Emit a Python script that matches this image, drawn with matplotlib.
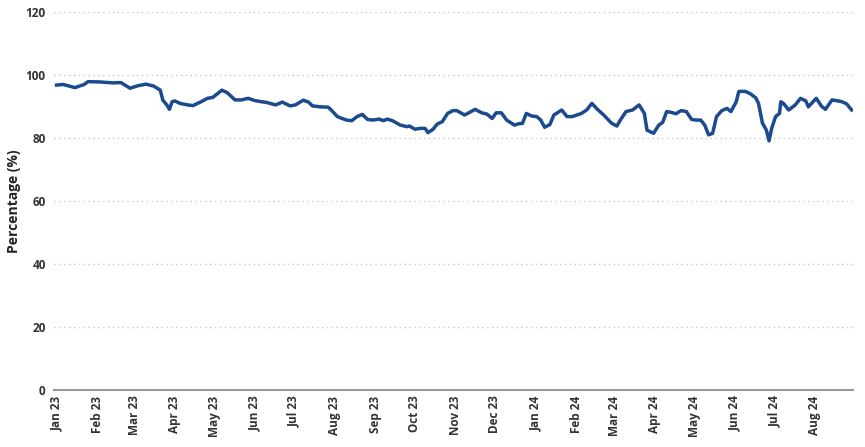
import matplotlib
matplotlib.use("Agg")
import matplotlib.pyplot as plt
import matplotlib.dates as mdates
import pandas as pd

start_date = "2023-01-01"
day_offsets = [0, 5, 14, 21, 24, 33, 43, 49, 56, 62, 68, 74, 79, 81, 84, 86, 88, 90, 94, 100,
               104, 110, 115, 119, 126, 130, 136, 141, 146, 151, 155, 160, 167, 172, 178, 182, 188, 192, 195, 201,
               207, 210, 214, 217, 221, 225, 229, 233, 237, 241, 246, 249, 252, 256, 262, 267, 269, 273, 278, 281,
               283, 287, 290, 294, 298, 302, 305, 311, 319, 324, 328, 332, 335, 339, 343, 349, 353, 355, 358, 362,
               366, 369, 372, 376, 379, 385, 389, 393, 400, 404, 408, 412, 417, 423, 427, 430, 434, 439, 444, 448,
               450, 454, 455, 459, 462, 465, 469, 472, 476, 480, 484, 487, 491, 494, 497, 500, 503, 507, 511, 514,
               518, 520, 525, 529, 533, 535, 538, 541, 543, 545, 548, 551, 552, 554, 558, 563, 567, 571, 573, 579,
               583, 586, 591, 598, 602, 606]
values = [96.8, 97.0, 96.0, 97.0, 97.9, 97.8, 97.5, 97.6, 95.8, 96.6, 97.1, 96.5, 95.2, 92.0, 90.5, 89.1, 91.5, 91.8, 91.0, 90.5,
          90.3, 91.5, 92.6, 92.9, 95.2, 94.4, 92.1, 92.1, 92.6, 91.9, 91.6, 91.3, 90.5, 91.4, 90.2, 90.5, 92.0, 91.4, 90.2, 89.9,
          89.8, 88.6, 86.8, 86.3, 85.7, 85.5, 86.8, 87.5, 85.9, 85.7, 86.0, 85.5, 86.0, 85.5, 84.1, 83.6, 83.8, 82.8, 83.1, 83.0,
          81.7, 82.8, 84.4, 85.2, 87.8, 88.7, 88.7, 87.3, 89.1, 88.0, 87.6, 86.2, 88.0, 88.0, 85.7, 84.1, 84.6, 84.6, 87.8, 87.0,
          86.8, 85.7, 83.4, 84.3, 87.3, 88.9, 86.8, 86.8, 87.8, 88.9, 91.0, 89.2, 87.3, 84.7, 83.8, 85.9, 88.4, 88.9, 90.5, 87.8,
          82.5, 81.7, 81.5, 84.1, 85.0, 88.4, 88.1, 87.7, 88.7, 88.4, 85.9, 85.7, 85.7, 84.1, 81.0, 81.5, 86.8, 88.7, 89.4, 88.4,
          91.5, 94.8, 94.8, 94.0, 92.7, 91.0, 84.7, 82.5, 79.1, 83.0, 86.8, 87.8, 91.5, 91.0, 88.9, 90.5, 92.6, 91.8, 89.9, 92.6,
          90.1, 89.1, 92.1, 91.6, 90.9, 88.9]
y_ticks = [0, 20, 40, 60, 80, 100, 120]
y_label = "Percentage (%)"

dates = pd.Timestamp(start_date) + pd.to_timedelta(day_offsets, unit="D")

plt.rcParams['font.family'] = ['Open Sans', 'DejaVu Sans']

fig = plt.figure(figsize=(8.65, 4.47), dpi=100)
ax = fig.add_axes([0.0624, 0.1275, 0.9237, 0.8456])

ax.plot(dates, values, color="#1c4a8e", linewidth=2.5, solid_joinstyle="round", zorder=3)

ax.set_ylim(0, 120)
ax.set_yticks(y_ticks)
ax.set_xlim(pd.Timestamp(start_date) - pd.Timedelta(days=2), pd.Timestamp(start_date) + pd.Timedelta(days=607))
ax.xaxis.set_major_locator(mdates.MonthLocator())
ax.xaxis.set_major_formatter(mdates.DateFormatter("%b %y"))

ax.grid(axis="y", linestyle=(0, (1, 2.5)), color="#c8c8c8", linewidth=1.0)
ax.grid(axis="x", visible=False)
ax.set_axisbelow(True)
for s in ["top", "right", "left"]:
    ax.spines[s].set_visible(False)
ax.spines["bottom"].set_color("#999999")
ax.spines["bottom"].set_linewidth(1.5)

ax.tick_params(axis="both", length=0, labelsize=8.5, labelcolor="#333333")
ax.tick_params(axis="y", pad=6)
ax.tick_params(axis="x", pad=4)
for lab in ax.get_xticklabels():
    lab.set_rotation(90)
    lab.set_fontweight("bold")
for lab in ax.get_yticklabels():
    lab.set_fontweight("bold")

ax.set_ylabel(y_label, fontsize=10, fontweight="bold", color="#222222", labelpad=3)

fig.savefig("out.png", dpi=100)
